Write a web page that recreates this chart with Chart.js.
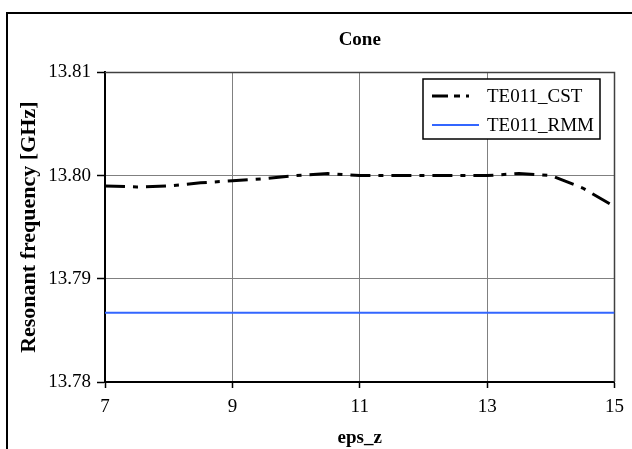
<!DOCTYPE html>
<html>
<head>
<meta charset="utf-8">
<script src="https://cdn.jsdelivr.net/npm/chart.js@4.4.1/dist/chart.umd.min.js"></script>
<style>
  html, body { margin: 0; padding: 0; background: #fff; }
</style>
</head>
<body>
<canvas id="chart" width="632" height="449"></canvas>
<script>
// data
const epsZ = [7, 7.5, 8, 8.5, 9, 9.5, 10, 10.5, 11, 11.5, 12, 12.5, 13, 13.5, 14, 14.5, 15]
const te011Cst = [13.7990, 13.7989, 13.7990, 13.7993, 13.7995, 13.7997, 13.8000, 13.8002, 13.8000, 13.8000,
    13.8000, 13.8000, 13.8000, 13.8002, 13.8000, 13.7988, 13.7970]
const rmmEpsZ = [7, 15]
const te011Rmm = [13.7867, 13.7867]
const xTicks = [7, 9, 11, 13, 15]
const yTicks = [13.78, 13.79, 13.80, 13.81]

const serif = '"Liberation Serif", "Times New Roman", serif'
const cstDash = [20, 8, 5, 8]

const toPoints = (xs, ys) => xs.map((x, i) => ({x: x, y: ys[i]}))

// white page and the outer frame of the chart object
const framePlugin = {
    id: 'frame',
    beforeDraw(chart) {
        const ctx = chart.ctx
        ctx.save()
        ctx.fillStyle = '#fff'
        ctx.fillRect(0, 0, chart.width, chart.height)
        ctx.strokeStyle = '#000'
        ctx.lineWidth = 2
        ctx.strokeRect(7, 13, chart.width + 20, chart.height + 20)
        ctx.restore()
    }
}

// top and right edges of the plot area
const plotBorderPlugin = {
    id: 'plotBorder',
    beforeDatasetsDraw(chart) {
        const {ctx, chartArea} = chart
        ctx.save()
        ctx.strokeStyle = '#404040'
        ctx.lineWidth = 1.5
        ctx.beginPath()
        ctx.moveTo(chartArea.left, chartArea.top)
        ctx.lineTo(chartArea.right, chartArea.top)
        ctx.lineTo(chartArea.right, chartArea.bottom)
        ctx.stroke()
        ctx.restore()
    }
}

// boxed legend sitting inside the plot area, top right
const legendBoxPlugin = {
    id: 'legendBox',
    afterDraw(chart) {
        const ctx = chart.ctx
        const box = {x: 423, y: 79, w: 177, h: 60}
        ctx.save()
        ctx.fillStyle = '#fff'
        ctx.fillRect(box.x, box.y, box.w, box.h)
        ctx.strokeStyle = '#000'
        ctx.lineWidth = 1.5
        ctx.strokeRect(box.x, box.y, box.w, box.h)
        ctx.font = '19px ' + serif
        ctx.textBaseline = 'middle'
        ctx.fillStyle = '#000'
        chart.data.datasets.forEach((ds, i) => {
            const y = box.y + 17 + i * 29
            ctx.save()
            ctx.strokeStyle = ds.borderColor
            ctx.lineWidth = ds.borderWidth
            ctx.setLineDash(ds.legendDash || [])
            ctx.beginPath()
            ctx.moveTo(box.x + 9, y)
            ctx.lineTo(box.x + 56, y)
            ctx.stroke()
            ctx.restore()
            ctx.fillText(ds.label, box.x + 64, y + 1)
        })
        ctx.restore()
    }
}

const ctx = document.getElementById('chart')
new Chart(ctx, {
    type: 'scatter',
    data: {
        datasets: [
            {
                label: 'TE011_CST',
                data: toPoints(epsZ, te011Cst),
                showLine: true,
                borderColor: '#000',
                borderWidth: 3,
                borderDash: cstDash,
                legendDash: [16, 6, 6, 6, 3, 20],
                pointRadius: 0,
                tension: 0,
            },
            {
                label: 'TE011_RMM',
                data: toPoints(rmmEpsZ, te011Rmm),
                showLine: true,
                borderColor: '#3366ff',
                borderWidth: 2,
                pointRadius: 0,
                tension: 0,
            }
        ]
    },
    options: {
        responsive: false,
        animation: false,
        layout: {padding: {left: 0, right: 15, top: 0, bottom: 0}},
        plugins: {
            legend: {display: false},
            tooltip: {enabled: false},
            title: {
                display: true,
                text: 'Cone',
                fullSize: false,
                color: '#000',
                font: {family: serif, size: 19, weight: 'bold'},
                padding: {top: 29, bottom: 20.6},
            },
        },
        scales: {
            x: {
                type: 'linear',
                min: 7,
                max: 15,
                afterBuildTicks: (s) => { s.ticks = xTicks.map(v => ({value: v})) },
                afterFit: (s) => { s.height = 67 },
                border: {color: '#000', width: 2},
                grid: {color: '#808080', lineWidth: 1, tickLength: 6, tickColor: '#000', tickWidth: 1.5},
                ticks: {color: '#000', font: {family: serif, size: 19}, padding: 8, maxRotation: 0},
                title: {
                    display: true,
                    text: 'eps_z',
                    color: '#000',
                    font: {family: serif, size: 19, weight: 'bold'},
                    padding: {top: 0, bottom: 0},
                },
            },
            y: {
                min: 13.78,
                max: 13.81,
                afterBuildTicks: (s) => { s.ticks = yTicks.map(v => ({value: v})) },
                afterFit: (s) => { s.width = 105 },
                border: {color: '#000', width: 2},
                grid: {color: '#808080', lineWidth: 1, tickLength: 8, tickColor: '#000', tickWidth: 1.5},
                ticks: {
                    color: '#000',
                    font: {family: serif, size: 19},
                    padding: 6,
                    callback: (v) => v.toFixed(2),
                },
                title: {
                    display: true,
                    text: 'Resonant frequency [GHz]',
                    color: '#000',
                    font: {family: serif, size: 22, weight: 'bold'},
                    padding: {top: 16, bottom: 0},
                },
            },
        },
    },
    plugins: [framePlugin, plotBorderPlugin, legendBoxPlugin],
})
</script>
</body>
</html>
